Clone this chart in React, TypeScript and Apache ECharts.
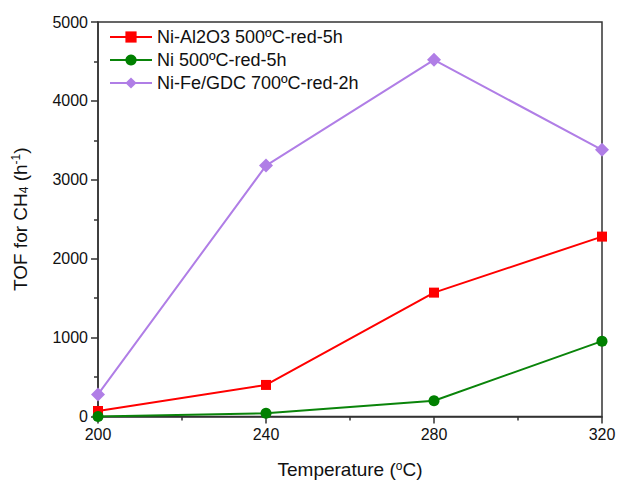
import React, { useEffect, useRef } from "react";
import * as echarts from "echarts";

const temperatures = [200, 240, 280, 320];
const niAl2O3 = [70, 400, 1570, 2280];
const ni = [0, 40, 200, 955];
const niFeGdc = [280, 3180, 4520, 3380];
const seriesNames = ["Ni-Al2O3 500ºC-red-5h", "Ni 500ºC-red-5h", "Ni-Fe/GDC 700ºC-red-2h"];

export default function App() {
  const ref = useRef<HTMLDivElement>(null);
  useEffect(() => {
    document.body.style.margin = "0";
    const chart = echarts.init(ref.current!, null, { renderer: "svg" });
    const font = "Arial, 'Liberation Sans', sans-serif";
    const pts = (ys: number[]) => temperatures.map((t, i) => [t, ys[i]]);
    chart.setOption({
      animation: false,
      backgroundColor: "#fff",
      grid: {
        left: 98,
        right: 18,
        top: 22,
        bottom: 64,
        show: true,
        borderColor: "#333",
        borderWidth: 1.5,
        backgroundColor: "transparent",
      },
      legend: {
        orient: "vertical",
        left: 104,
        top: 22,
        itemWidth: 42,
        itemHeight: 14,
        itemGap: 3,
        textStyle: { fontFamily: font, fontSize: 18, color: "#111", lineHeight: 20 },
        data: seriesNames,
      },
      xAxis: {
        type: "value",
        min: 200,
        max: 320,
        interval: 40,
        name: "Temperature ({sup|o}C)",
        nameLocation: "middle",
        nameGap: 43,
        nameTextStyle: {
          fontFamily: font,
          fontSize: 19,
          color: "#111",
          rich: {
            sup: { fontSize: 12, fontFamily: font, color: "#111", padding: [0, 0, 8, 0] },
          },
        },
        axisLine: { lineStyle: { color: "#333", width: 1.5 } },
        axisTick: { length: 7, lineStyle: { color: "#333", width: 1.5 } },
        minorTick: { show: true, splitNumber: 2, length: 4, lineStyle: { color: "#333", width: 1.5 } },
        splitLine: { show: false },
        axisLabel: { fontFamily: font, fontSize: 16, color: "#111", margin: 10 },
      },
      yAxis: {
        type: "value",
        min: 0,
        max: 5000,
        interval: 1000,
        name: "TOF for CH{sub|4} (h{sup|-1})",
        nameLocation: "middle",
        nameGap: 68,
        nameTextStyle: {
          fontFamily: font,
          fontSize: 19,
          color: "#111",
          rich: {
            sub: { fontSize: 12, fontFamily: font, color: "#111", padding: [8, 0, 0, 0] },
            sup: { fontSize: 12, fontFamily: font, color: "#111", padding: [0, 0, 8, 0] },
          },
        },
        axisLine: { show: true, lineStyle: { color: "#333", width: 1.5 } },
        axisTick: { show: true, length: 7, lineStyle: { color: "#333", width: 1.5 } },
        minorTick: { show: true, splitNumber: 2, length: 4, lineStyle: { color: "#333", width: 1.5 } },
        splitLine: { show: false },
        axisLabel: {
          fontFamily: font,
          fontSize: 16,
          color: "#111",
          margin: 10,
          formatter: (v: number) => String(v),
        },
      },
      series: [
        {
          name: seriesNames[0],
          type: "line",
          data: pts(niAl2O3),
          symbol: "rect",
          symbolSize: 10,
          color: "#ff0000",
          lineStyle: { width: 2, color: "#ff0000" },
          itemStyle: { color: "#ff0000" },
          z: 3,
        },
        {
          name: seriesNames[1],
          type: "line",
          data: pts(ni),
          symbol: "circle",
          symbolSize: 11,
          color: "#008000",
          lineStyle: { width: 2, color: "#0a840a" },
          itemStyle: { color: "#008000" },
          z: 4,
        },
        {
          name: seriesNames[2],
          type: "line",
          data: pts(niFeGdc),
          symbol: "diamond",
          symbolSize: 14,
          color: "#b07ee6",
          lineStyle: { width: 2, color: "#b07ee6" },
          itemStyle: { color: "#b07ee6" },
          z: 2,
        },
      ],
    });
    return () => chart.dispose();
  }, []);
  return <div ref={ref} style={{ width: 620, height: 484 }} />;
}
